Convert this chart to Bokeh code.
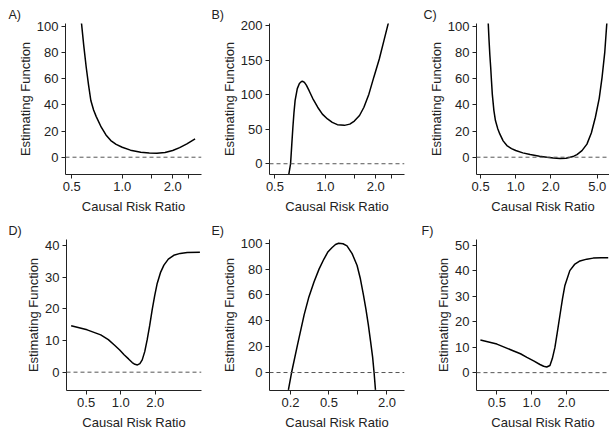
import json
from bokeh.plotting import figure
from bokeh.layouts import row, column
from bokeh.models import Range1d, FixedTicker, CustomJSTickFormatter, Span
from bokeh.embed import file_html
from bokeh.resources import INLINE

# ---------------- data ----------------
a_x = [0.57, 0.59, 0.61, 0.63, 0.65, 0.675, 0.70, 0.75, 0.80, 0.855, 0.92, 1.0, 1.12, 1.29, 1.45, 1.61, 1.80, 2.0, 2.20, 2.43, 2.72]
a_y = [104, 85, 68.7, 55, 43.3, 36, 31.0, 22.9, 17.0, 12.7, 9.8, 7.6, 5.4, 3.8, 3.2, 3.0, 3.6, 5.1, 7.3, 10.2, 14.0]
a_xticks = [0.5, 1.0, 1.5, 2.0, 2.5]
a_xlabels = ["0.5", "1.0", "", "2.0", ""]
a_yticks = [0, 20, 40, 60, 80, 100]

b_x = [0.605, 0.62, 0.63, 0.64, 0.65, 0.66, 0.68, 0.70, 0.72, 0.733, 0.75, 0.77, 0.80, 0.84, 0.90, 0.96, 1.03, 1.10, 1.18, 1.30, 1.40, 1.49, 1.60, 1.70, 1.82, 1.95, 2.10, 2.24, 2.40]
b_y = [-15.5, 0, 27, 53, 75, 92, 109, 116.5, 119.3, 119.6, 118, 114, 106, 95, 82, 72, 65, 60, 56.7, 55.7, 57.5, 62, 70, 82, 101, 126, 152, 179, 208]
b_xticks = [0.5, 1.0, 1.5, 2.0, 2.5]
b_xlabels = ["0.5", "1.0", "", "2.0", ""]
b_yticks = [0, 50, 100, 150, 200]

c_x = [0.58, 0.59, 0.60, 0.61, 0.62, 0.63, 0.65, 0.67, 0.70, 0.73, 0.78, 0.84, 0.92, 1.0, 1.15, 1.33, 1.6, 1.85, 2.1, 2.4, 2.7, 2.93, 3.15, 3.35, 3.7, 4.08, 4.45, 4.82, 5.2, 5.5, 5.8, 6.06]
c_y = [104, 90, 78, 68.7, 58, 48, 35.6, 28, 22, 17.8, 12.5, 8.9, 6.6, 5.1, 3.3, 2.0, 0.8, 0.0, -0.6, -1.0, -0.8, 0.0, 0.8, 2.0, 5.0, 10.0, 18.5, 30.5, 45.0, 61.0, 80, 104]
c_xticks = [0.5, 1.0, 2.0, 5.0]
c_xlabels = ["0.5", "1.0", "2.0", "5.0"]
c_yticks = [0, 20, 40, 60, 80, 100]

d_x = [0.37, 0.51, 0.67, 0.78, 0.88, 0.98, 1.07, 1.17, 1.26, 1.33, 1.40, 1.47, 1.54, 1.62, 1.70, 1.79, 1.88, 1.98, 2.08, 2.22, 2.38, 2.6, 2.9, 3.3, 3.8, 4.9]
d_y = [14.7, 13.4, 11.8, 10.3, 8.6, 7.0, 5.5, 4.2, 3.05, 2.5, 2.3, 2.7, 3.9, 6.5, 10.2, 14.8, 19.7, 24.3, 28.1, 31.5, 33.9, 35.8, 37.0, 37.6, 37.9, 38.0]
d_xticks = [0.5, 1.0, 2.0]
d_xlabels = ["0.5", "1.0", "2.0"]
d_yticks = [0, 10, 20, 30, 40]

e_x = [0.19, 0.205, 0.237, 0.277, 0.31, 0.35, 0.395, 0.444, 0.49, 0.54, 0.585, 0.63, 0.70, 0.77, 0.87, 0.98, 1.06, 1.14, 1.21, 1.28, 1.35, 1.42, 1.47, 1.52]
e_y = [-13.4, 0, 22, 44.8, 58.5, 70, 80, 87.8, 93.5, 96.7, 99, 100, 99.6, 98, 92, 82.8, 72.5, 60, 49, 37.2, 24.5, 11.9, 0, -13.4]
e_xticks = [0.2, 0.5, 1.0, 2.0]
e_xlabels = ["0.2", "0.5", "", "2.0"]
e_yticks = [0, 20, 40, 60, 80, 100]

f_x = [0.36, 0.5, 0.69, 0.80, 0.91, 1.04, 1.18, 1.27, 1.35, 1.44, 1.51, 1.59, 1.67, 1.76, 1.85, 1.94, 2.14, 2.35, 2.62, 3.0, 3.41, 4.0, 4.6]
f_y = [12.8, 11.2, 8.6, 7.4, 6.0, 4.6, 3.2, 2.5, 2.2, 2.8, 5.5, 9.9, 16.0, 22.7, 29.0, 34.2, 40.0, 42.4, 43.8, 44.5, 44.9, 45.0, 45.0]
f_xticks = [0.5, 1.0, 2.0]
f_xlabels = ["0.5", "1.0", "2.0"]
f_yticks = [0, 10, 20, 30, 40, 50]

# ---------------- styling helpers ----------------
FONT = "Liberation Sans"
TXT = "#222222"


def make_panel(letter, xs, ys, xr, yr, xticks, xlabels, yticks,
               w, h, borders, letter_x):
    left, right, top, bottom = borders
    p = figure(width=w, height=h, x_axis_type="log",
               x_range=Range1d(*xr), y_range=Range1d(*yr),
               output_backend="svg", toolbar_location=None,
               min_border_left=left, min_border_right=right,
               min_border_top=top, min_border_bottom=bottom)
    p.outline_line_color = None
    p.grid.visible = False
    p.background_fill_color = "white"
    p.border_fill_color = "white"

    # panel letter as the title, shifted left of the frame
    p.title.text = letter + ")"
    p.title.align = "left"
    p.title.offset = letter_x - left
    p.title.standoff = 3
    p.title.text_font = FONT
    p.title.text_font_size = "12.5px"
    p.title.text_font_style = "normal"
    p.title.text_color = TXT

    p.add_layout(Span(location=0, dimension="width", line_color="#555555",
                      line_width=1, line_dash="4 3"))
    p.line(xs, ys, line_color="black", line_width=1.5)

    code = ("const t=%s; const l=%s;"
            "for (let i=0;i<t.length;i++){ if (Math.abs(tick-t[i])<1e-6) return l[i]; }"
            "return '';") % (json.dumps(xticks), json.dumps(xlabels))
    p.xaxis.ticker = FixedTicker(ticks=xticks)
    p.xaxis.formatter = CustomJSTickFormatter(code=code)
    p.yaxis.ticker = FixedTicker(ticks=yticks)

    for ax in (p.xaxis[0], p.yaxis[0]):
        ax.axis_line_color = TXT
        ax.major_tick_line_color = TXT
        ax.major_tick_out = 4
        ax.major_tick_in = 0
        ax.minor_tick_line_color = None
        ax.major_label_text_font = FONT
        ax.major_label_text_font_size = "13px"
        ax.major_label_text_color = TXT
        ax.axis_label_text_font = FONT
        ax.axis_label_text_font_size = "13px"
        ax.axis_label_text_font_style = "normal"
        ax.axis_label_text_color = TXT
    p.xaxis.axis_label = "Causal Risk Ratio"
    p.yaxis.axis_label = "Estimating Function"
    p.xaxis.major_label_standoff = 3
    p.xaxis.axis_label_standoff = 5
    p.yaxis.major_label_standoff = 3
    p.yaxis.axis_label_standoff = 1
    return p


pa = make_panel("A", a_x, a_y, (0.459, 2.97), (-13.2, 102.1), a_xticks, a_xlabels, a_yticks,
                203, 216, (65, 2, 23, 42), 8)
pb = make_panel("B", b_x, b_y, (0.464, 2.97), (-15.6, 203.5), b_xticks, b_xlabels, b_yticks,
                203, 216, (66, 2, 23, 42), 8)
pc = make_panel("C", c_x, c_y, (0.461, 6.37), (-13.2, 102.1), c_xticks, c_xlabels, c_yticks,
                203, 216, (70, 0, 23, 42), 17)
pd = make_panel("D", d_x, d_y, (0.337, 5.06), (-5.8, 42.0), d_xticks, d_xlabels, d_yticks,
                203, 217, (66, 2, 23, 43), 8)
pe = make_panel("E", e_x, e_y, (0.121, 3.04), (-13.9, 102.9), e_xticks, e_xlabels, e_yticks,
                203, 217, (66, 2, 23, 40), 8)
pf = make_panel("F", f_x, f_y, (0.333, 4.72), (-7.0, 52.2), f_xticks, f_xlabels, f_yticks,
                203, 217, (70, 0, 23, 40), 15)

layout = column(row(pa, pb, pc, spacing=0), row(pd, pe, pf, spacing=0), spacing=0)

open("out.html", "w").write(file_html(layout, INLINE))
